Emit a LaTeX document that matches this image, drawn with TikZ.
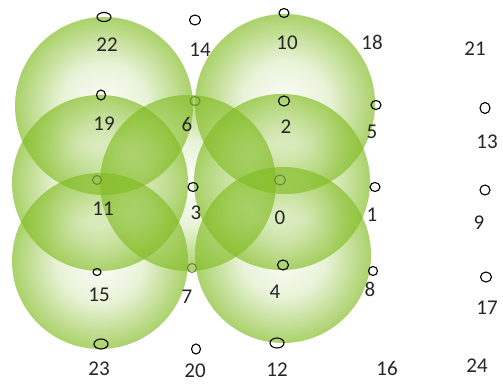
\documentclass[tikz,border=0pt]{standalone}
\usepackage{fontspec}
\setmainfont{Carlito}
\usetikzlibrary{shapes.geometric,fadings}

\definecolor{grball}{RGB}{130,188,35}
\definecolor{grmark}{RGB}{105,140,55}
\pgfdeclareradialshading{ballmask}{\pgfpoint{0bp}{0bp}}{color(0bp)=(black!98); color(12bp)=(black!82); color(25bp)=(black!32); color(50bp)=(black!32)}
\pgfdeclarefading{ballfade}{\pgfuseshading{ballmask}}

\tikzset{
  cell/.style={fill=grball, path fading=ballfade},
  mote/.style={draw, ellipse, line width=1.1pt, inner sep=0pt, minimum width=10pt, minimum height=9pt},
  hid/.style={mote, draw=grmark},
  lbl/.style={text=black!85, font=\fontsize{21}{24}\selectfont, inner sep=0pt}
}

\begin{document}
\begin{tikzpicture}[x=1pt, y=-1pt]
    \useasboundingbox (0,0) rectangle (503,383);

    % coverage discs
    \fill[cell] (104,106) circle (89pt);
    \fill[cell] (285,104) circle (90pt);
    \fill[cell] (100,183) circle (88pt);
    \fill[cell] (188,183) circle (88pt);
    \fill[cell] (282,182) circle (88pt);
    \fill[cell] (100,261) circle (88pt);
    \fill[cell] (283,255) circle (88pt);

    % sensor marks
    \node[mote, minimum width=14pt] (m22) at (104,17) {};
    \node[mote, minimum width=11pt, minimum height=10pt] (m14) at (195,20) {};
    \node[mote] (m10) at (284,13) {};
    \node[mote, minimum width=9pt, minimum height=10pt] (m19) at (101,95) {};
    \node[hid] (m6) at (195,101) {};
    \node[mote, minimum width=11pt, minimum height=10pt] (m2) at (284,101) {};
    \node[mote] (m5) at (376,105) {};
    \node[mote, minimum height=11pt] (m13) at (485,108) {};
    \node[hid, minimum width=9pt] (m11) at (97,180) {};
    \node[mote] (m3) at (193,187) {};
    \node[hid, minimum width=11pt, minimum height=10pt] (m0) at (280,180) {};
    \node[mote] (m1) at (375,187) {};
    \node[mote, minimum height=10pt] (m9) at (485,190) {};
    \node[mote, minimum width=8pt, minimum height=7pt] (m15) at (97,272) {};
    \node[hid, minimum width=9pt] (m7) at (192,268) {};
    \node[mote, minimum width=11pt, minimum height=10pt] (m4) at (283,265) {};
    \node[mote, minimum width=9pt] (m8) at (373,271) {};
    \node[mote, minimum width=11pt, minimum height=10pt] (m17) at (486,277) {};
    \node[mote, minimum width=14pt, minimum height=10pt] (m23) at (101,344) {};
    \node[mote, minimum width=9pt, minimum height=10pt] (m20) at (196,349) {};
    \node[mote, minimum width=14pt, minimum height=10pt] (m12) at (277,343) {};

    % ids
    \node[lbl] (l22) at (107,45) {22};
    \node[lbl] (l14) at (200,50) {14};
    \node[lbl] (l10) at (287,43) {10};
    \node[lbl] (l18) at (372,42) {18};
    \node[lbl] (l21) at (475,49) {21};
    \node[lbl] (l19) at (104,124) {19};
    \node[lbl] (l6) at (187,124) {6};
    \node[lbl] (l2) at (286,127) {2};
    \node[lbl] (l5) at (372,132) {5};
    \node[lbl] (l13) at (487,142) {13};
    \node[lbl] (l11) at (103,209) {11};
    \node[lbl] (l3) at (196,213) {3};
    \node[lbl] (l0) at (280,218) {0};
    \node[lbl] (l1) at (372,215) {1};
    \node[lbl] (l9) at (479,223) {9};
    \node[lbl] (l15) at (99,295) {15};
    \node[lbl] (l7) at (187,297) {7};
    \node[lbl] (l4) at (275,292) {4};
    \node[lbl] (l8) at (370,289) {8};
    \node[lbl] (l17) at (487,308) {17};
    \node[lbl] (l23) at (99,369) {23};
    \node[lbl] (l20) at (195,371) {20};
    \node[lbl] (l12) at (277,370) {12};
    \node[lbl] (l16) at (387,368) {16};
    \node[lbl] (l24) at (477,366) {24};

\end{tikzpicture}
\end{document}
